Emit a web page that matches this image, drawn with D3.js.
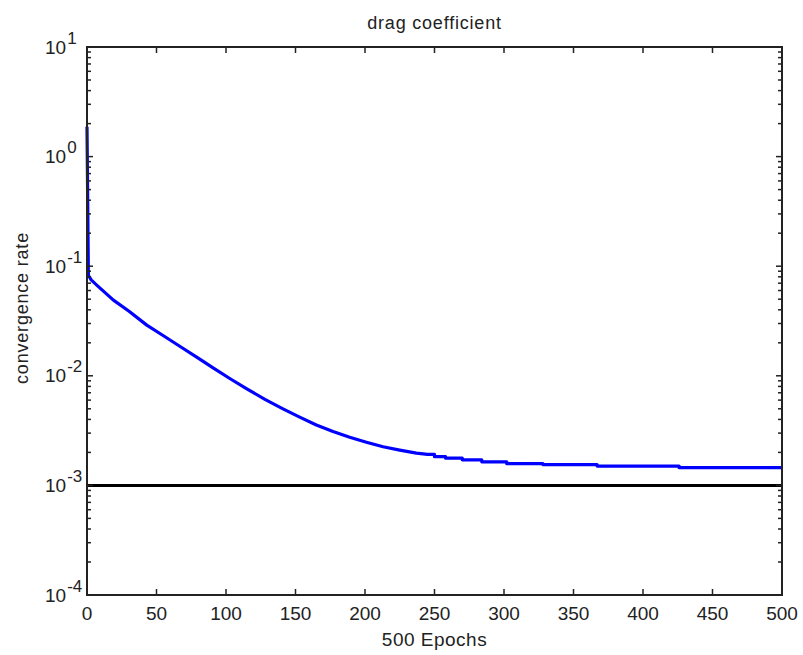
<!DOCTYPE html>
<html>
<head>
<meta charset="utf-8">
<script src="https://cdn.jsdelivr.net/npm/d3@7"></script>
<style>
  body { margin: 0; background: #fff; }
  text { font-family: "Liberation Sans", Arial, sans-serif; fill: #222; }
</style>
</head>
<body>
<script>
// smooth part of the curve
const epochs = [0, 1, 2, 3, 7, 19, 30, 43, 55, 67, 80, 91, 103, 115, 128, 141, 153, 165, 177, 189, 201, 213, 225, 237, 245];
const rates  = [1.87, 0.082, 0.079, 0.075, 0.0673, 0.049, 0.039, 0.029, 0.0232, 0.0185, 0.0145, 0.01175, 0.0094, 0.0076, 0.0061, 0.005, 0.0042, 0.00356, 0.0031, 0.00275, 0.00248, 0.00225, 0.0021, 0.00197, 0.00192];
// stepped tail
const stepEpochs = [250, 258, 270, 284, 302, 328, 367, 426, 500];
const stepRates  = [0.00183, 0.00177, 0.00171, 0.00164, 0.00158, 0.00155, 0.0015, 0.00145, 0.00145];

const goal = 1e-3;
const xTicks = [0, 50, 100, 150, 200, 250, 300, 350, 400, 450, 500];
const yExps = [1, 0, -1, -2, -3, -4];

const W = 803, H = 655;
const m = {left: 87, right: 782, top: 47, bottom: 595};

const svg = d3.select("body").append("svg")
    .attr("width", W)
    .attr("height", H);

const x = d3.scaleLinear().domain([0, 500]).range([m.left, m.right]);
const y = d3.scaleLog().domain([1e-4, 10]).range([m.bottom, m.top]);

// data points
let pts = epochs.map((e, i) => [e, rates[i]]);
let prev = rates[rates.length - 1];
stepEpochs.forEach((e, i) => {
    pts.push([e, prev]);
    pts.push([e, stepRates[i]]);
    prev = stepRates[i];
});

const line = d3.line().x(d => x(d[0])).y(d => y(d[1]));

svg.append("path")
    .datum(pts)
    .attr("d", line)
    .attr("fill", "none")
    .attr("stroke", "#0000ff")
    .attr("stroke-width", 3.2)
    .attr("stroke-linejoin", "round");

svg.append("line")
    .attr("x1", x(0)).attr("x2", x(500))
    .attr("y1", y(goal)).attr("y2", y(goal))
    .attr("stroke", "#000")
    .attr("stroke-width", 3);

// ticks
const ax = svg.append("g").attr("stroke", "#222").attr("stroke-width", 1.5);
xTicks.forEach(t => {
    ax.append("line").attr("x1", x(t)).attr("x2", x(t)).attr("y1", m.bottom).attr("y2", m.bottom - 6);
    ax.append("line").attr("x1", x(t)).attr("x2", x(t)).attr("y1", m.top).attr("y2", m.top + 6);
});
yExps.forEach(p => {
    for (let k = 1; k <= 9; k++) {
        const v = k * Math.pow(10, p);
        if (v > 10 || v < 1e-4) continue;
        const len = k === 1 ? 6 : 4;
        ax.append("line").attr("x1", m.left).attr("x2", m.left + len).attr("y1", y(v)).attr("y2", y(v));
        ax.append("line").attr("x1", m.right).attr("x2", m.right - len).attr("y1", y(v)).attr("y2", y(v));
    }
});

// frame
svg.append("rect")
    .attr("x", m.left).attr("y", m.top)
    .attr("width", m.right - m.left).attr("height", m.bottom - m.top)
    .attr("fill", "none")
    .attr("stroke", "#222")
    .attr("stroke-width", 2);

// tick labels
svg.selectAll(".xl").data(xTicks).enter().append("text")
    .attr("x", d => x(d))
    .attr("y", 620)
    .attr("text-anchor", "middle")
    .style("font-size", "19px")
    .text(d => d);

const yl = svg.selectAll(".yl").data(yExps).enter().append("text")
    .attr("x", 45)
    .attr("y", d => y(Math.pow(10, d)) + 6.5)
    .style("font-size", "19px");
yl.append("tspan").text("10");
yl.append("tspan").attr("dy", -10).attr("dx", 1).style("font-size", "17px").text(d => d);

// titles
svg.append("text")
    .attr("x", (m.left + m.right) / 2)
    .attr("y", 29)
    .attr("text-anchor", "middle")
    .style("font-size", "18px")
    .style("letter-spacing", "0.8px")
    .text("drag coefficient");

svg.append("text")
    .attr("x", (m.left + m.right) / 2)
    .attr("y", 646)
    .attr("text-anchor", "middle")
    .style("font-size", "19px")
    .style("letter-spacing", "0.5px")
    .text("500 Epochs");

svg.append("text")
    .attr("transform", "translate(28," + 308 + ") rotate(-90)")
    .attr("text-anchor", "middle")
    .style("font-size", "18px")
    .style("letter-spacing", "0.8px")
    .text("convergence rate");
</script>
</body>
</html>
